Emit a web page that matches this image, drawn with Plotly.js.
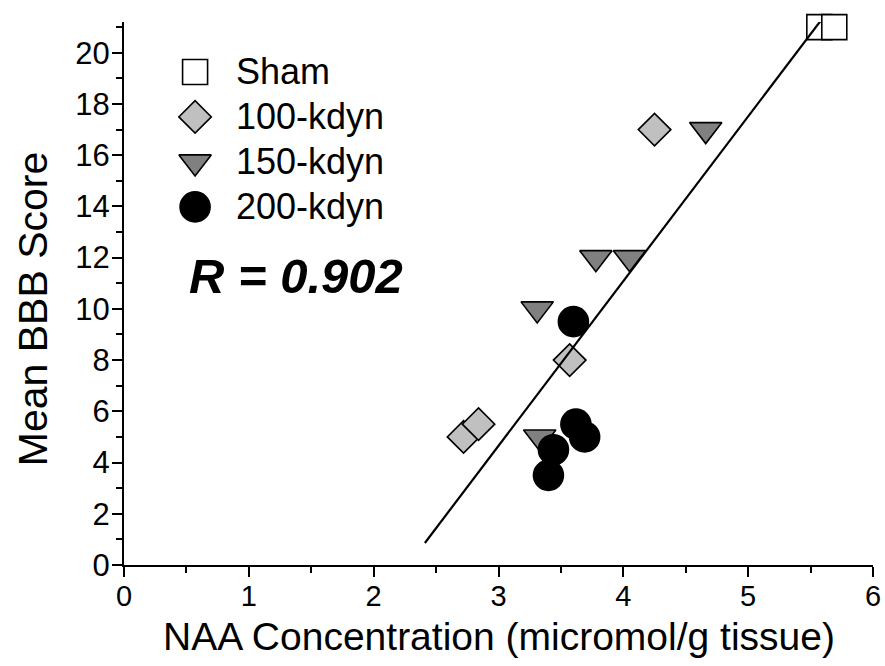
<!DOCTYPE html>
<html>
<head>
<meta charset="utf-8">
<script src="https://cdn.plot.ly/plotly-3.0.1.min.js"></script>
<style>html,body{margin:0;padding:0;background:#fff}#chart{width:885px;height:666px}</style>
</head>
<body>
<div id="chart"></div>
<script>
// ---- data ----
var groups = ["Sham", "100-kdyn", "150-kdyn", "200-kdyn"];
var shamX = [5.57, 5.69];
var shamY = [21, 21];
var k100X = [4.25, 3.57, 2.72, 2.84];
var k100Y = [17, 8, 5, 5.5];
var k150X = [4.66, 3.78, 4.05, 3.31, 3.33];
var k150Y = [17, 12, 12, 10, 5];
var k200X = [3.60, 3.62, 3.69, 3.44, 3.40];
var k200Y = [9.5, 5.5, 5.0, 4.5, 3.5];
var fitX = [2.41, 5.62];
var fitY = [0.86, 21.5];
var rLabel = "R = 0.902";
var xTitle = "NAA Concentration (micromol/g tissue)";
var yTitle = "Mean BBB Score";

// ---- styles ----
var FONT = "Liberation Sans, Arial, sans-serif";
var styles = [
  {symbol: "square", size: 25, color: "#ffffff"},
  {symbol: "diamond", size: 25, color: "#c0c0c0"},
  {symbol: "triangle-down", size: 28, color: "#808080"},
  {symbol: "circle", size: 30, color: "#000000"}
];
var xs = [shamX, k100X, k150X, k200X];
var ys = [shamY, k100Y, k150Y, k200Y];

var traces = [];
groups.forEach(function (g, i) {
  traces.push({
    type: "scatter", mode: "markers", name: g,
    x: xs[i], y: ys[i], cliponaxis: false,
    marker: {symbol: styles[i].symbol, size: styles[i].size, color: styles[i].color,
             line: {color: "#000", width: 1.6}},
    showlegend: false, hoverinfo: "x+y"
  });
});
traces.push({
  type: "scatter", mode: "lines", x: fitX, y: fitY, cliponaxis: false,
  line: {color: "#000", width: 2.2}, showlegend: false, hoverinfo: "skip"
});

// custom legend drawn on an overlay axis: one row per group index
groups.forEach(function (g, i) {
  traces.push({
    type: "scatter", mode: "markers", x: [0], y: [i],
    xaxis: "x2", yaxis: "y2", cliponaxis: false,
    marker: {symbol: styles[i].symbol, size: styles[i].size, color: styles[i].color,
             line: {color: "#000", width: 1.6}},
    showlegend: false, hoverinfo: "skip"
  });
});

var annotations = groups.map(function (g, i) {
  return {xref: "x2", yref: "y2", x: 0.87, y: i, text: g, showarrow: false,
          xanchor: "left", yanchor: "middle", font: {family: FONT, size: 36, color: "#000"}};
});
annotations.push({
  xref: "x", yref: "y", x: 1.38, y: 11.3, text: "<b><i>" + rLabel + "</i></b>",
  showarrow: false, xanchor: "center", yanchor: "middle",
  font: {family: FONT, size: 49, color: "#000"}
});
// axis titles
annotations.push({
  xref: "paper", yref: "paper", x: 0.5, y: 0, yshift: -71, text: xTitle,
  showarrow: false, xanchor: "center", yanchor: "middle",
  font: {family: FONT, size: 39, color: "#000"}
});
annotations.push({
  xref: "paper", yref: "paper", x: 0, y: 0.471, xshift: -91, text: yTitle, textangle: -90,
  showarrow: false, xanchor: "center", yanchor: "middle",
  font: {family: FONT, size: 41, color: "#000"}
});

var layout = {
  width: 885, height: 666,
  margin: {l: 124, r: 12, t: 22, b: 101},
  paper_bgcolor: "#fff", plot_bgcolor: "#fff",
  font: {family: FONT, color: "#000"},
  showlegend: false,
  xaxis: {
    range: [0, 6], dtick: 1, tick0: 0,
    showline: true, linecolor: "#000", linewidth: 2,
    showgrid: false, zeroline: false,
    ticks: "outside", ticklen: 10, tickwidth: 2, tickcolor: "#000",
    ticklabelstandoff: -6,
    minor: {dtick: 0.5, ticks: "outside", ticklen: 6, tickwidth: 2, tickcolor: "#000", showgrid: false},
    tickfont: {family: FONT, size: 29, color: "#000"}
  },
  yaxis: {
    range: [0, 21.2], dtick: 2, tick0: 0,
    showline: true, linecolor: "#000", linewidth: 2,
    showgrid: false, zeroline: false,
    ticks: "outside", ticklen: 10, tickwidth: 2, tickcolor: "#000",
    ticklabelstandoff: -4,
    minor: {dtick: 1, ticks: "outside", ticklen: 6, tickwidth: 2, tickcolor: "#000", showgrid: false},
    tickfont: {family: FONT, size: 31, color: "#000"}
  },
  xaxis2: {overlaying: "x", anchor: "y2", range: [-1.58, 15.07], visible: false, fixedrange: true},
  yaxis2: {overlaying: "y", anchor: "x2", range: [10.96, -1.11], visible: false, fixedrange: true},
  annotations: annotations
};

Plotly.newPlot("chart", traces, layout, {displayModeBar: false, staticPlot: true});
</script>
</body>
</html>
